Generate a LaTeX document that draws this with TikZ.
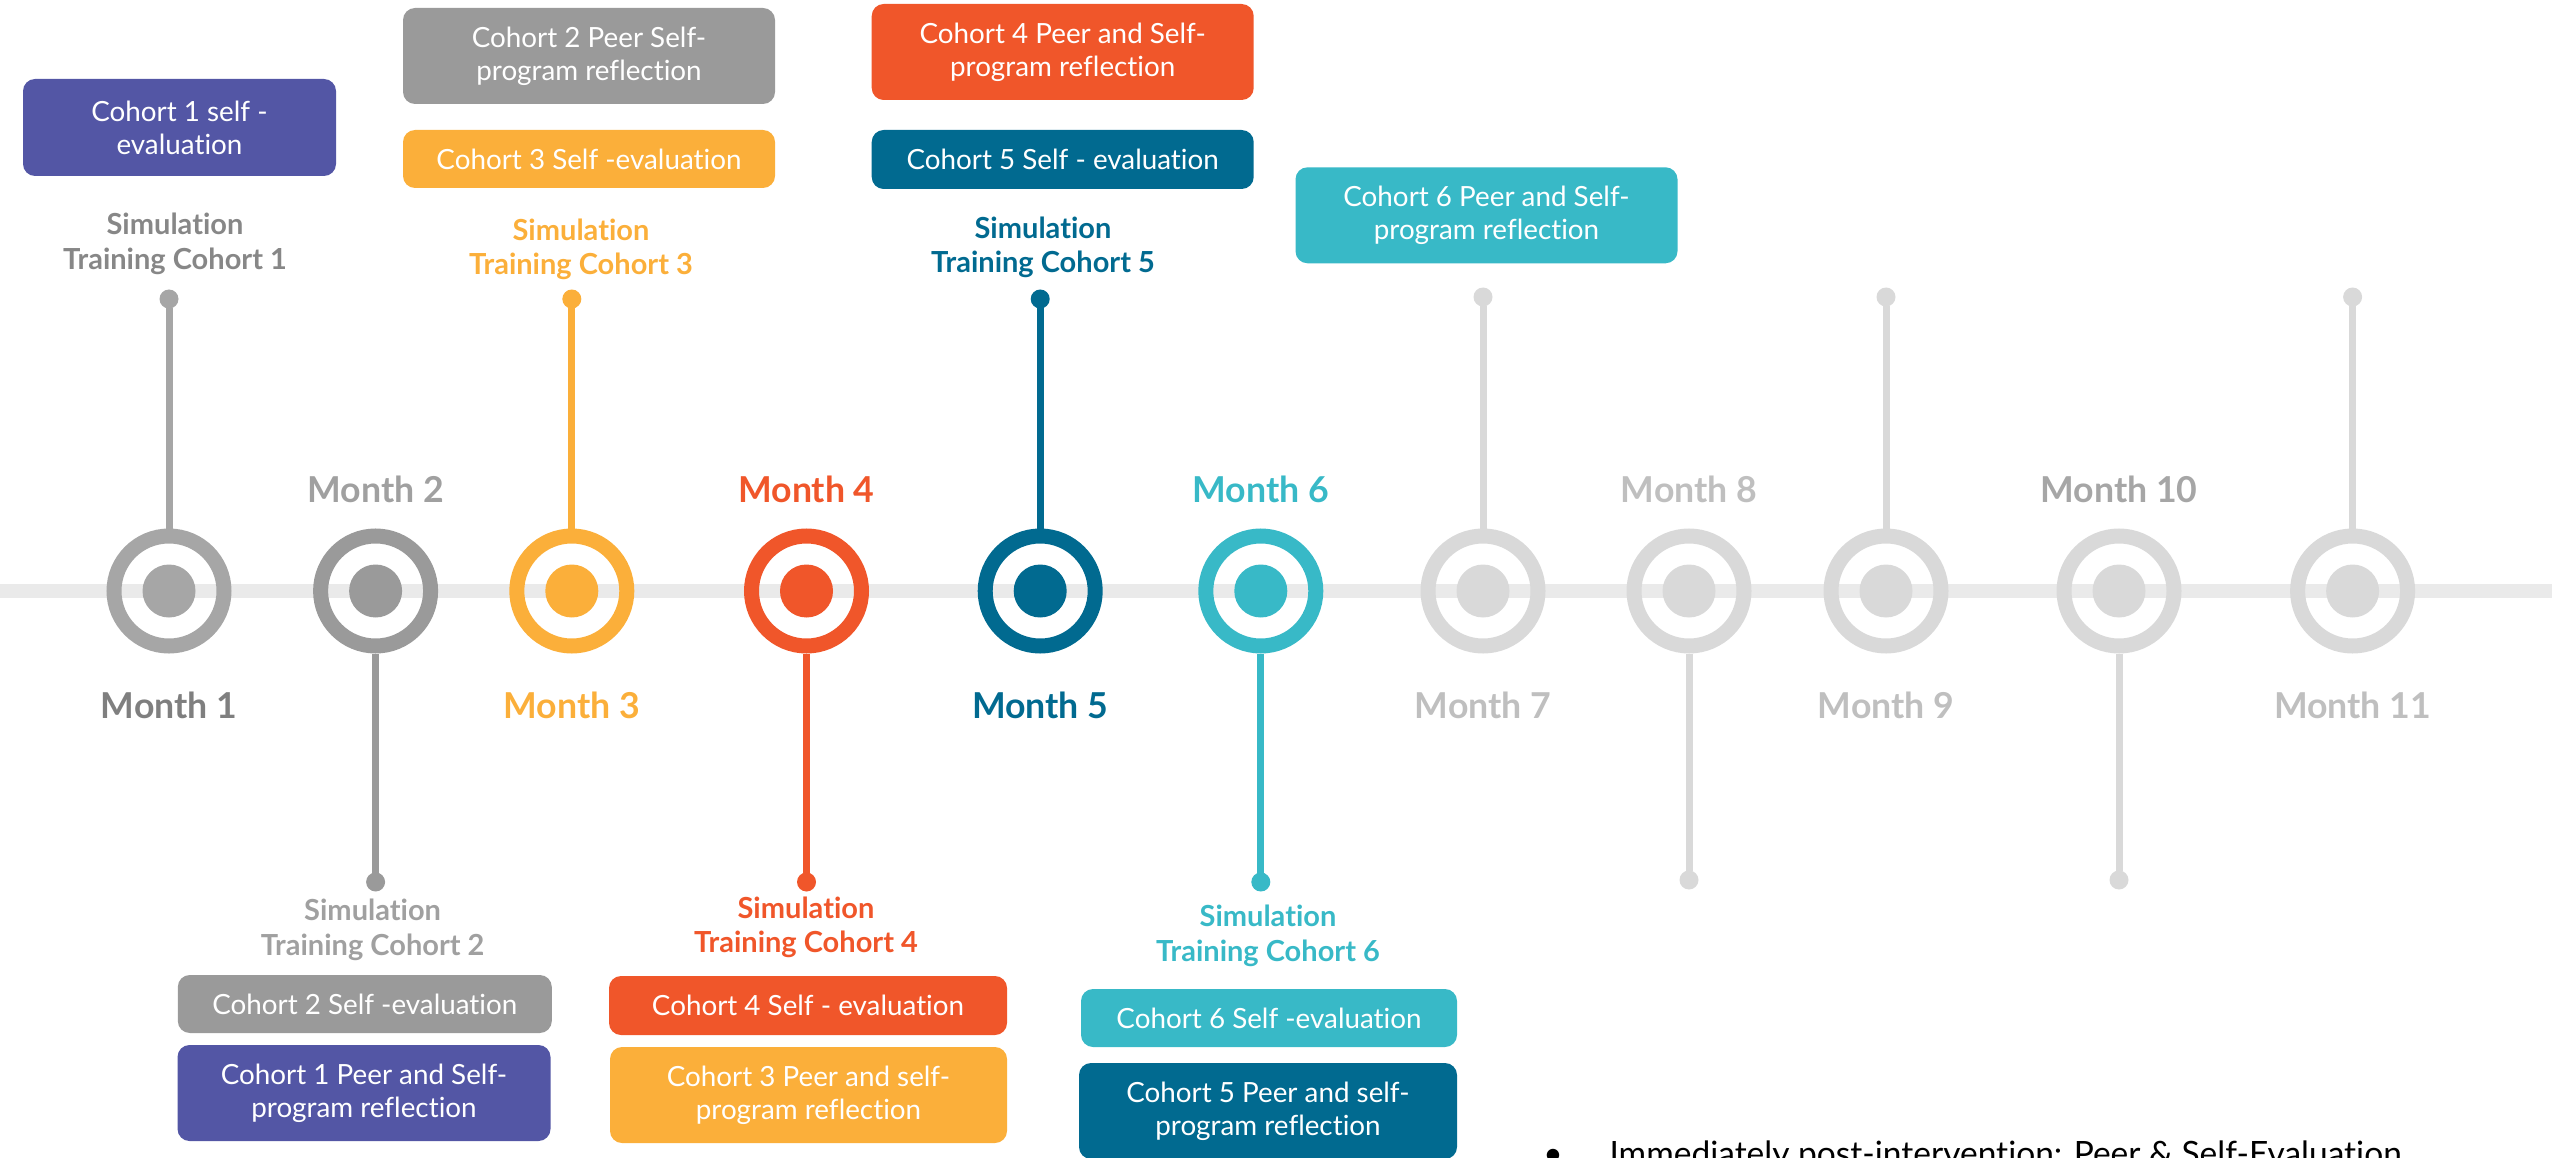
\documentclass[tikz,border=0pt]{standalone}
\usepackage{fontspec}
\setmainfont{Lato}[Ligatures={NoCommon}]
\usetikzlibrary{positioning}

\definecolor{track}{HTML}{EAEAEA}
\definecolor{grayA}{HTML}{A6A6A6}
\definecolor{grayB}{HTML}{9A9A9A}
\definecolor{paleg}{HTML}{D9D9D9}
\definecolor{amber}{HTML}{FBAF3A}
\definecolor{flame}{HTML}{F0562A}
\definecolor{navy}{HTML}{016A90}
\definecolor{aqua}{HTML}{38B9C7}
\definecolor{violet}{HTML}{5356A5}
\definecolor{txtA}{HTML}{7F7F7F}
\definecolor{txtB}{HTML}{A0A0A0}
\definecolor{txtC}{HTML}{878787}
\definecolor{txtL}{HTML}{BFBFBF}
\definecolor{txtM}{HTML}{A6A6A6}

\begin{document}
\begin{tikzpicture}[x=1pt, y=-1pt,
    ring/.style={circle, draw=#1, line width=15pt, minimum size=110pt, inner sep=0pt, outer sep=7.5pt},
    tip/.style={circle, fill=#1, minimum size=19pt, inner sep=0pt, outer sep=0pt},
    stem/.style={draw=#1, line width=7pt},
    monthlbl/.style={anchor=base, font=\fontsize{35.7}{40}\selectfont\bfseries},
    simlbl/.style={anchor=base, align=center, font=\fontsize{29}{34.5}\selectfont\bfseries},
    card/.style={fill=#1, rounded corners=12pt, text=white, align=center, inner sep=0pt, font=\fontsize{27.8}{33}\selectfont}]

    \useasboundingbox (0,0) rectangle (2552,1158);
    \clip (0,0) rectangle (2552,1158);

    % timeline
    \coordinate (start) at (0,591);
    \coordinate (end) at (2552,591);
    \draw[line width=14pt, color=track] (start) -- (end);

    \coordinate (lowrow) at (0,718);
    \coordinate (highrow) at (0,502);

    % stem ends
    \node[tip=grayA] (t1) at (169,299) {};
    \node[tip=grayB] (t2) at (375.6,882) {};
    \node[tip=amber] (t3) at (571.8,299) {};
    \node[tip=flame] (t4) at (806.5,882) {};
    \node[tip=navy] (t5) at (1040.2,299) {};
    \node[tip=aqua] (t6) at (1260.8,882) {};
    \node[tip=paleg] (t7) at (1483,297) {};
    \node[tip=paleg] (t8) at (1689,880) {};
    \node[tip=paleg] (t9) at (1886,297) {};
    \node[tip=paleg] (t10) at (2119,880) {};
    \node[tip=paleg] (t11) at (2352.6,297) {};

    % months
    \node[ring=grayA] (m1) at (t1 |- start) {};
    \node[ring=grayB] (m2) at (t2 |- start) {};
    \node[ring=amber] (m3) at (t3 |- start) {};
    \node[ring=flame] (m4) at (t4 |- start) {};
    \node[ring=navy] (m5) at (t5 |- start) {};
    \node[ring=aqua] (m6) at (t6 |- start) {};
    \node[ring=paleg] (m7) at (t7 |- start) {};
    \node[ring=paleg] (m8) at (t8 |- start) {};
    \node[ring=paleg] (m9) at (t9 |- start) {};
    \node[ring=paleg] (m10) at (t10 |- start) {};
    \node[ring=paleg] (m11) at (t11 |- start) {};

    \fill[grayA] (m1) circle (26.5);
    \fill[grayB] (m2) circle (26.5);
    \fill[amber] (m3) circle (26.5);
    \fill[flame] (m4) circle (26.5);
    \fill[navy] (m5) circle (26.5);
    \fill[aqua] (m6) circle (26.5);
    \fill[paleg] (m7) circle (26.5);
    \fill[paleg] (m8) circle (26.5);
    \fill[paleg] (m9) circle (26.5);
    \fill[paleg] (m10) circle (26.5);
    \fill[paleg] (m11) circle (26.5);

    % stems
    \draw[stem=grayA] (m1) -- (t1);
    \draw[stem=grayB] (m2) -- (t2);
    \draw[stem=amber] (m3) -- (t3);
    \draw[stem=flame] (m4) -- (t4);
    \draw[stem=navy] (m5) -- (t5);
    \draw[stem=aqua] (m6) -- (t6);
    \draw[stem=paleg] (m7) -- (t7);
    \draw[stem=paleg] (m8) -- (t8);
    \draw[stem=paleg] (m9) -- (t9);
    \draw[stem=paleg] (m10) -- (t10);
    \draw[stem=paleg] (m11) -- (t11);

    % month labels
    \node[monthlbl, text=txtA] (l1) at (m1 |- lowrow) {Month 1};
    \node[monthlbl, text=txtB] (l2) at (m2 |- highrow) {Month 2};
    \node[monthlbl, text=amber] (l3) at (m3 |- lowrow) {Month 3};
    \node[monthlbl, text=flame] (l4) at (m4 |- highrow) {Month 4};
    \node[monthlbl, text=navy] (l5) at (m5 |- lowrow) {Month 5};
    \node[monthlbl, text=aqua] (l6) at (m6 |- highrow) {Month 6};
    \node[monthlbl, text=txtL] (l7) at (m7 |- lowrow) {Month 7};
    \node[monthlbl, text=txtL] (l8) at (m8 |- highrow) {Month 8};
    \node[monthlbl, text=txtL] (l9) at (m9 |- lowrow) {Month 9};
    \node[monthlbl, text=txtM] (l10) at (m10 |- highrow) {Month 10};
    \node[monthlbl, text=txtL] (l11) at (m11 |- lowrow) {Month 11};

    % simulation trainings (base = last line)
    \node[simlbl, text=txtC] (s1) at (175,269.3) {Simulation\\Training Cohort 1};
    \node[simlbl, text=txtB] (s2) at (372.6,955) {Simulation\\Training Cohort 2};
    \node[simlbl, text=amber] (s3) at (581,275) {Simulation\\Training Cohort 3};
    \node[simlbl, text=flame] (s4) at (806,952.7) {Simulation\\Training Cohort 4};
    \node[simlbl, text=navy] (s5) at (1043,272.7) {Simulation\\Training Cohort 5};
    \node[simlbl, text=aqua] (s6) at (1268,961) {Simulation\\Training Cohort 6};

    % evaluation cards
    \node[card=violet, minimum width=313pt, minimum height=97pt] (c1) at (179.5,127.5) {Cohort 1 self -\\evaluation};
    \node[card=grayB, minimum width=372pt, minimum height=96pt] (c2) at (589,56) {Cohort 2 Peer Self-\\program reflection};
    \node[card=amber, minimum width=372pt, minimum height=58pt] (c3) at (589,159) {Cohort 3 Self -evaluation};
    \node[card=flame, minimum width=382pt, minimum height=96pt] (c4) at (1062.7,52) {Cohort 4 Peer and Self-\\program reflection};
    \node[card=navy, minimum width=382pt, minimum height=59pt] (c5) at (1062.7,159.5) {Cohort 5 Self - evaluation};
    \node[card=aqua, minimum width=382pt, minimum height=96pt] (c6) at (1486.5,215.3) {Cohort 6 Peer and Self-\\program reflection};
    \node[card=grayB, minimum width=374pt, minimum height=58pt] (c7) at (364.8,1004) {Cohort 2 Self -evaluation};
    \node[card=violet, minimum width=373pt, minimum height=96pt] (c8) at (364,1093) {Cohort 1 Peer and Self-\\program reflection};
    \node[card=flame, minimum width=398pt, minimum height=59pt] (c9) at (808,1005.5) {Cohort 4 Self - evaluation};
    \node[card=amber, minimum width=397pt, minimum height=96pt] (c10) at (808.5,1095) {Cohort 3 Peer and self-\\program reflection};
    \node[card=aqua, minimum width=376pt, minimum height=58pt] (c11) at (1269,1018) {Cohort 6 Self -evaluation};
    \node[card=navy, minimum width=378pt, minimum height=96pt] (c12) at (1268,1111) {Cohort 5 Peer and self-\\program reflection};

    % note at the bottom
    \node[anchor=base, font=\fontsize{33.5}{40}\selectfont] (bul) at (1553,1165) {\textbullet};
    \node[anchor=base west, font=\fontsize{33.5}{40}\selectfont] (note) at (1606,1165) {Immediately post-intervention: Peer \& Self-Evaluation};

\end{tikzpicture}
\end{document}
